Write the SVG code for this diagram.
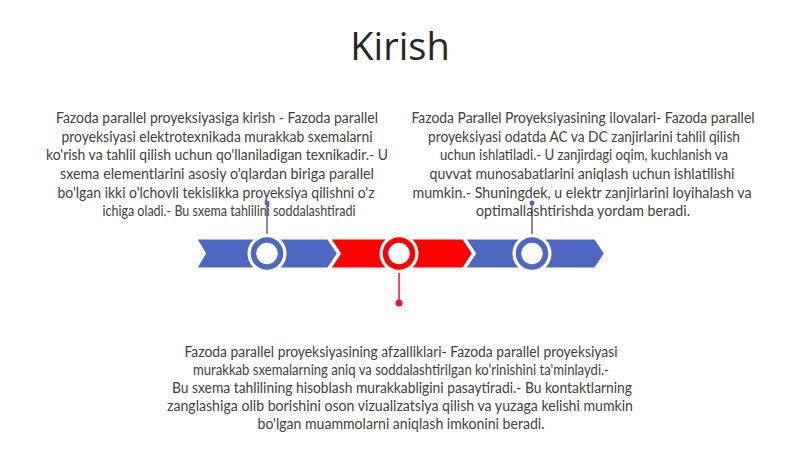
<svg xmlns="http://www.w3.org/2000/svg" width="800" height="449" viewBox="0 0 800 449">
<style>
.t{font-family:Lato,"Open Sans","Liberation Sans",sans-serif;font-size:14.5px;fill:#404040;text-anchor:middle}
.title{font-family:"Open Sans","Liberation Sans",sans-serif;font-size:38px;fill:#262626;text-anchor:middle}
.blue{fill:#4e68c2;stroke:#fff;stroke-width:2}
.red{fill:#ff0000;stroke:#fff;stroke-width:2}
</style>
<rect width="800" height="449" fill="#fff"/>
<text class="title" x="400" y="60">Kirish</text>
<g id="timeline">
<polygon class="blue" points="196,238.5 328,238.5 338,253.5 328,268.5 196,268.5 205,253.5"/>
<polygon class="red" points="330,238.5 463,238.5 473,253.5 463,268.5 330,268.5 340,253.5"/>
<polygon class="blue" points="465,238.5 595,238.5 605,253.5 595,268.5 465,268.5 475,253.5"/>
</g>
<g id="connectors">
<line x1="267" y1="203" x2="267" y2="240" stroke="#55679e" stroke-width="1.5"/>
<circle cx="267" cy="203" r="2.5" fill="#55679e"/>
<line x1="532" y1="203" x2="532" y2="240" stroke="#55679e" stroke-width="1.5"/>
<circle cx="532" cy="203" r="2.5" fill="#55679e"/>
<line x1="399" y1="268" x2="399" y2="303" stroke="#e5133a" stroke-width="1.5"/>
<circle cx="399" cy="303" r="3.5" fill="#e5133a"/>
</g>
<g id="node1">
<circle cx="267" cy="253.5" r="19.5" fill="#fff"/>
<circle cx="267" cy="253.5" r="13.5" fill="#fff" stroke="#4e68c2" stroke-width="5.5"/>
<text class="t" x="217" y="123" textLength="322" lengthAdjust="spacingAndGlyphs">Fazoda parallel proyeksiyasiga kirish - Fazoda parallel</text>
<text class="t" x="217" y="142" textLength="311" lengthAdjust="spacingAndGlyphs">proyeksiyasi elektrotexnikada murakkab sxemalarni</text>
<text class="t" x="217" y="160" textLength="342" lengthAdjust="spacingAndGlyphs">ko'rish va tahlil qilish uchun qo'llaniladigan texnikadir.- U</text>
<text class="t" x="217" y="179" textLength="314" lengthAdjust="spacingAndGlyphs">sxema elementlarini asosiy o'qlardan biriga parallel</text>
<text class="t" x="216" y="198" textLength="317" lengthAdjust="spacingAndGlyphs">bo'lgan ikki o'lchovli tekislikka proyeksiya qilishni o'z</text>
<text class="t" x="229" y="216" textLength="253" lengthAdjust="spacingAndGlyphs">ichiga oladi.- Bu sxema tahlilini soddalashtiradi</text>
</g>
<g id="node2">
<circle cx="399" cy="253.5" r="19.5" fill="#fff"/>
<circle cx="399" cy="253.5" r="13.5" fill="#fff" stroke="#ff0000" stroke-width="5.5"/>
<text class="t" x="401" y="357" textLength="433" lengthAdjust="spacingAndGlyphs">Fazoda parallel proyeksiyasining afzalliklari- Fazoda parallel proyeksiyasi</text>
<text class="t" x="401" y="375" textLength="416" lengthAdjust="spacingAndGlyphs">murakkab sxemalarning aniq va soddalashtirilgan ko'rinishini ta'minlaydi.-</text>
<text class="t" x="402" y="393" textLength="460" lengthAdjust="spacingAndGlyphs">Bu sxema tahlilining hisoblash murakkabligini pasaytiradi.- Bu kontaktlarning</text>
<text class="t" x="400" y="411" textLength="466" lengthAdjust="spacingAndGlyphs">zanglashiga olib borishini oson vizualizatsiya qilish va yuzaga kelishi mumkin</text>
<text class="t" x="401" y="429" textLength="287" lengthAdjust="spacingAndGlyphs">bo'lgan muammolarni aniqlash imkonini beradi.</text>
</g>
<g id="node3">
<circle cx="532" cy="253.5" r="19.5" fill="#fff"/>
<circle cx="532" cy="253.5" r="13.5" fill="#fff" stroke="#4e68c2" stroke-width="5.5"/>
<text class="t" x="583" y="123" textLength="343" lengthAdjust="spacingAndGlyphs">Fazoda Parallel Proyeksiyasining ilovalari- Fazoda parallel</text>
<text class="t" x="584" y="142" textLength="312" lengthAdjust="spacingAndGlyphs">proyeksiyasi odatda AC va DC zanjirlarini tahlil qilish</text>
<text class="t" x="584" y="160" textLength="288" lengthAdjust="spacingAndGlyphs">uchun ishlatiladi.- U zanjirdagi oqim, kuchlanish va</text>
<text class="t" x="582" y="179" textLength="305" lengthAdjust="spacingAndGlyphs">quvvat munosabatlarini aniqlash uchun ishlatilishi</text>
<text class="t" x="582" y="198" textLength="339" lengthAdjust="spacingAndGlyphs">mumkin.- Shuningdek, u elektr zanjirlarini loyihalash va</text>
<text class="t" x="583" y="216" textLength="214" lengthAdjust="spacingAndGlyphs">optimallashtirishda yordam beradi.</text>
</g>
</svg>
